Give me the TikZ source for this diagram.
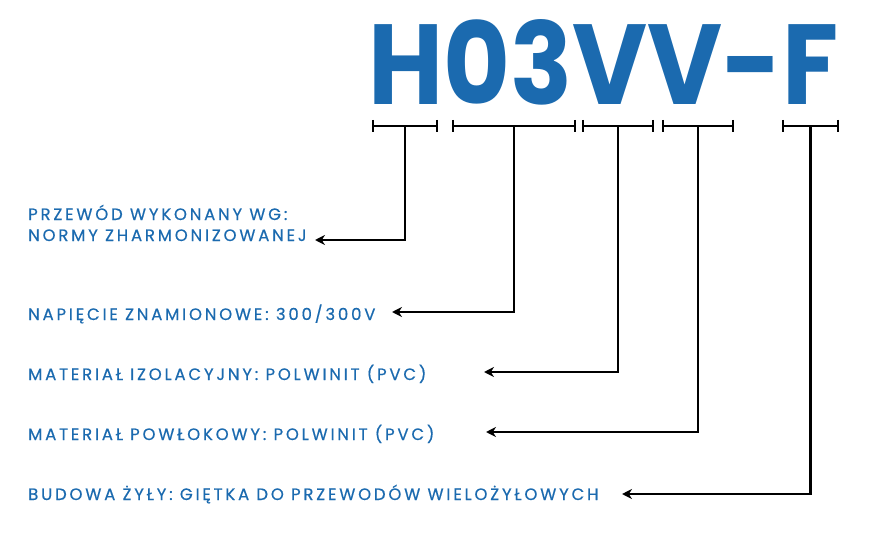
\documentclass[tikz,border=0pt]{standalone}
\usepackage{fontspec}
\setmainfont{Poppins}
\usetikzlibrary{arrows.meta}
\definecolor{blu}{HTML}{1B6AAF}
\begin{document}
\begin{tikzpicture}[x=1pt,y=-1pt,
 lbl/.style={anchor=base west,text=blu,font=\fontsize{16.5}{21}\selectfont\addfontfeature{LetterSpace=17,FakeBold=0.5},inner sep=0,align=left},
 br/.style={line width=2.4pt,black},
 ar/.style={line width=2.4pt,black,-{Stealth[length=10pt,width=10pt]}}]
\useasboundingbox (0,0) rectangle (880,540);
\node[anchor=south west,text=blu,inner sep=0] (t) at (368,105) {\resizebox{470pt}{85pt}{\fontsize{100}{100}\bfseries\selectfont H03VV-F}};
\foreach \n/\a/\b in {b1/373/437,b2/453/575,b3/583/653,b4/663/733,b5/783/838}{
 \draw[br] (\a,126) -- (\b,126);
 \draw[br] (\a,120) -- (\a,132);
 \draw[br] (\b,120) -- (\b,132);
 \coordinate (\n) at ({(\a+\b)/2},126);
}
\node[lbl] (l1) at (28,241) {PRZEWÓD WYKONANY WG:\\NORMY ZHARMONIZOWANEJ};
\node[lbl] (l2) at (28,320) {NAPIĘCIE ZNAMIONOWE: 300/300V};
\node[lbl] (l3) at (28,380) {MATERIAŁ IZOLACYJNY: POLWINIT (PVC)};
\node[lbl] (l4) at (28,440) {MATERIAŁ POWŁOKOWY: POLWINIT (PVC)};
\node[lbl] (l5) at (28,500) {BUDOWA ŻYŁY: GIĘTKA DO PRZEWODÓW WIELOŻYŁOWYCH};
\coordinate (e1) at (315,240);
\coordinate (e2) at (392,312);
\coordinate (e3) at (484,372);
\coordinate (e4) at (486,432);
\coordinate (e5) at (622,494);
\draw[ar] (b1) |- (e1);
\draw[ar] (b2) |- (e2);
\draw[ar] (b3) |- (e3);
\draw[ar] (b4) |- (e4);
\draw[ar] (b5) |- (e5);
\end{tikzpicture}
\end{document}
